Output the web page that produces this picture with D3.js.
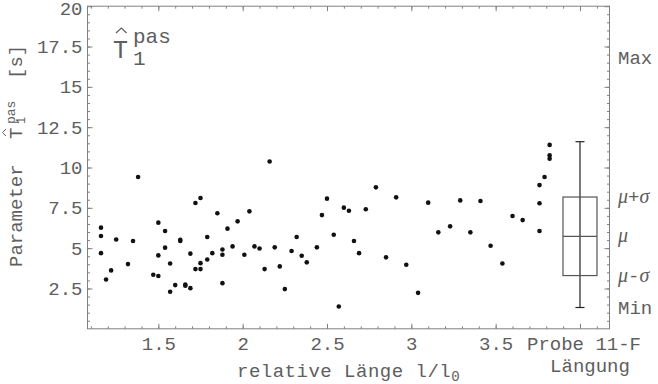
<!DOCTYPE html>
<html><head><meta charset="utf-8">
<script src="https://cdn.jsdelivr.net/npm/d3@7"></script>
<style>body{margin:0;background:#fff}svg{display:block}</style>
</head><body><svg id="c" width="658" height="384"></svg>
<script>
// ---- data ----
const lengthX = [1.16,1.16,1.16,1.19,1.22,1.25,1.32,1.35,1.38,1.47,1.50,1.50,1.50,1.54,1.54,1.57,1.57,1.60,1.63,1.63,1.66,1.66,1.69,1.69,1.72,1.75,1.72,1.75,1.75,1.79,1.79,1.82,1.85,1.88,1.88,1.88,1.91,1.94,1.97,2.01,2.04,2.07,2.10,2.13,2.16,2.19,2.22,2.25,2.29,2.32,2.35,2.38,2.44,2.47,2.50,2.54,2.57,2.60,2.63,2.66,2.69,2.73,2.79,2.85,2.91,2.97,3.04,3.10,3.16,3.23,3.29,3.35,3.41,3.47,3.54,3.60,3.66,3.76,3.76,3.76,3.79,3.82,3.82,3.82];
const paramT = [6.27,5.75,4.69,3.06,3.62,5.54,4.01,5.44,9.41,3.35,3.27,4.55,6.58,6.06,5.03,4.05,2.30,2.71,5.52,5.44,2.75,2.67,2.52,4.66,7.80,8.11,3.70,3.70,4.07,4.30,5.69,4.69,7.16,4.92,4.59,2.83,6.21,5.11,6.66,4.59,7.28,5.11,4.98,3.70,10.37,5.05,3.87,2.46,4.82,5.69,4.53,4.12,5.05,7.05,8.07,5.83,1.38,7.51,7.32,5.44,4.69,7.41,8.77,4.43,8.15,3.97,2.23,7.82,5.98,6.35,7.96,5.98,7.92,5.15,4.05,6.99,6.74,8.91,7.78,6.06,9.41,11.40,10.76,10.55];
const xTicks = [1.5, 2, 2.5, 3, 3.5, 4];
const xTickLabels = ["1.5", "2", "2.5", "3", "3.5", ""];
const yTicks = [2.5, 5, 7.5, 10, 12.5, 15, 17.5, 20];
const yTickLabels = ["2.5", "5", "7.5", "10", "12.5", "15", "17.5", "20"];
const boxX = 4.0;                       // position of the summary box
const boxQuart = [3.30, 5.73, 8.17];    // mu-sigma, mu, mu+sigma
const boxWhisker = [1.32, 11.6];        // min, max
const sideLabels = ["Max", "μ+σ", "μ", "μ-σ", "Min"];
const sideLabelPos = [16.8, 8.17, 5.73, 3.30, 1.32];

// ---- layout ----
const svg = d3.select("#c");
const L = 87.5, R = 609.5, T = 6.2, B = 328.8;
const x = d3.scaleLinear().domain([1.08, 4.175]).range([L, R]);
const y = d3.scaleLinear().domain([0, 20]).range([B, T]);
const frameC = "#808080", textC = "#5e5e5e", font = "'Liberation Mono', 'DejaVu Sans Mono', monospace";

const xMinor = d3.range(11, 42).map(d => d / 10);
const yMinor = d3.range(1, 40).map(d => d / 2);

function styleAxis(g) {
  g.select(".domain").remove();
  g.selectAll("line").attr("stroke", frameC).attr("stroke-width", 1);
  g.selectAll("text").attr("fill", textC).style("font-family", font).style("font-size", "19px");
}
// minor ticks
svg.append("g").attr("transform", `translate(0,${B})`).call(d3.axisBottom(x).tickValues(xMinor).tickSize(-2.5).tickFormat("")).call(styleAxis);
svg.append("g").attr("transform", `translate(0,${T})`).call(d3.axisTop(x).tickValues(xMinor).tickSize(-2.5).tickFormat("")).call(styleAxis);
svg.append("g").attr("transform", `translate(${L},0)`).call(d3.axisLeft(y).tickValues(yMinor).tickSize(-2.5).tickFormat("")).call(styleAxis);
svg.append("g").attr("transform", `translate(${R},0)`).call(d3.axisRight(y).tickValues(yMinor).tickSize(-2.5).tickFormat("")).call(styleAxis);
// major ticks
svg.append("g").attr("transform", `translate(0,${B})`)
  .call(d3.axisBottom(x).tickValues(xTicks).tickSize(-5).tickPadding(8).tickFormat((d, i) => xTickLabels[i])).call(styleAxis);
svg.append("g").attr("transform", `translate(0,${T})`).call(d3.axisTop(x).tickValues(xTicks).tickSize(-5).tickFormat("")).call(styleAxis);
const yAx = svg.append("g").attr("transform", `translate(${L},0)`)
  .call(d3.axisLeft(y).tickValues(yTicks).tickSize(-5).tickPadding(5).tickFormat((d, i) => yTickLabels[i])).call(styleAxis);
yAx.selectAll("text").filter(d => d === 20).attr("dy", "0.42em");
svg.append("g").attr("transform", `translate(${R},0)`).call(d3.axisRight(y).tickValues(yTicks).tickSize(-5).tickFormat("")).call(styleAxis);

// frame
svg.append("rect").attr("x", L).attr("y", T).attr("width", R - L).attr("height", B - T)
  .attr("fill", "none").attr("stroke", frameC).attr("stroke-width", 1);

// points
svg.append("g").selectAll("circle").data(lengthX).join("circle")
  .attr("cx", d => x(d)).attr("cy", (d, i) => y(paramT[i])).attr("r", 2.3).attr("fill", "#111");

// box plot
const bx = x(boxX), bw = 17;
const bg = svg.append("g");
bg.append("line").attr("x1", bx).attr("x2", bx).attr("y1", y(boxWhisker[0])).attr("y2", y(boxWhisker[1])).attr("stroke", "#222").attr("stroke-width", 1.2);
boxWhisker.forEach(v => bg.append("line").attr("x1", bx - 4.5).attr("x2", bx + 4.5).attr("y1", y(v)).attr("y2", y(v)).attr("stroke", "#222").attr("stroke-width", 1.2));
bg.append("rect").attr("x", bx - bw).attr("width", 2 * bw).attr("y", y(boxQuart[2])).attr("height", y(boxQuart[0]) - y(boxQuart[2]))
  .attr("fill", "none").attr("stroke", "#555").attr("stroke-width", 1.2);
bg.append("line").attr("x1", bx - bw).attr("x2", bx + bw).attr("y1", y(boxQuart[1])).attr("y2", y(boxQuart[1])).attr("stroke", "#555").attr("stroke-width", 1.2);

// side labels
const sg = svg.append("g").attr("fill", textC).style("font-size", "19px").style("font-family", font);
sideLabels.forEach((lab, i) => {
  const t = sg.append("text").attr("x", 618).attr("y", y(sideLabelPos[i])).attr("dy", "0.32em");
  if (lab.includes("μ")) {
    [...lab].forEach(ch => {
      const ts = t.append("tspan").text(ch);
      if (ch === "μ" || ch === "σ") ts.style("font-family", "'Liberation Serif', serif").style("font-style", "italic").style("font-size", "20px");
    });
  } else t.text(lab);
});

// x axis titles
const xt = svg.append("text").attr("x", 237).attr("y", 377).attr("fill", textC).style("font-family", font).style("font-size", "19px").style("letter-spacing", "0.5px");
xt.append("tspan").text("relative Länge l/l");
xt.append("tspan").attr("dy", 4).style("font-size", "14px").text("0");
svg.append("text").attr("x", 584).attr("y", 350).attr("text-anchor", "middle").attr("fill", textC).style("font-family", font).style("font-size", "19px").text("Probe 11-F");
svg.append("text").attr("x", 590).attr("y", 372).attr("text-anchor", "middle").attr("fill", textC).style("font-family", font).style("font-size", "19px").text("Längung");

// y axis title (rotated)
const yg = svg.append("g").attr("transform", "translate(22,267) rotate(-90)").attr("fill", textC).style("font-family", font);
yg.append("text").attr("x", 0).attr("y", 0).style("font-size", "19px").text("Parameter");
yg.append("text").attr("x", 128).attr("y", 0).style("font-size", "19px").text("T");
yg.append("path").attr("d", "M131,-16 L134.5,-19.5 L138,-16").attr("fill", "none").attr("stroke", textC).attr("stroke-width", 1);
yg.append("text").attr("x", 143).attr("y", -7).style("font-size", "13px").text("pas");
yg.append("text").attr("x", 143).attr("y", 3).style("font-size", "12px").text("1");
yg.append("text").attr("x", 188).attr("y", 0).style("font-size", "19px").text("[s]");

// in-plot title
const tg = svg.append("g").attr("fill", textC).style("font-family", font);
tg.append("text").attr("x", 113).attr("y", 58).style("font-size", "25px").text("T");
tg.append("path").attr("d", "M116,33 L121.3,28 L126.6,33").attr("fill", "none").attr("stroke", textC).attr("stroke-width", 1.2);
tg.append("text").attr("x", 133).attr("y", 43).style("font-size", "21px").text("pas");
tg.append("text").attr("x", 133).attr("y", 65).style("font-size", "21px").text("1");
</script>
</body></html>
